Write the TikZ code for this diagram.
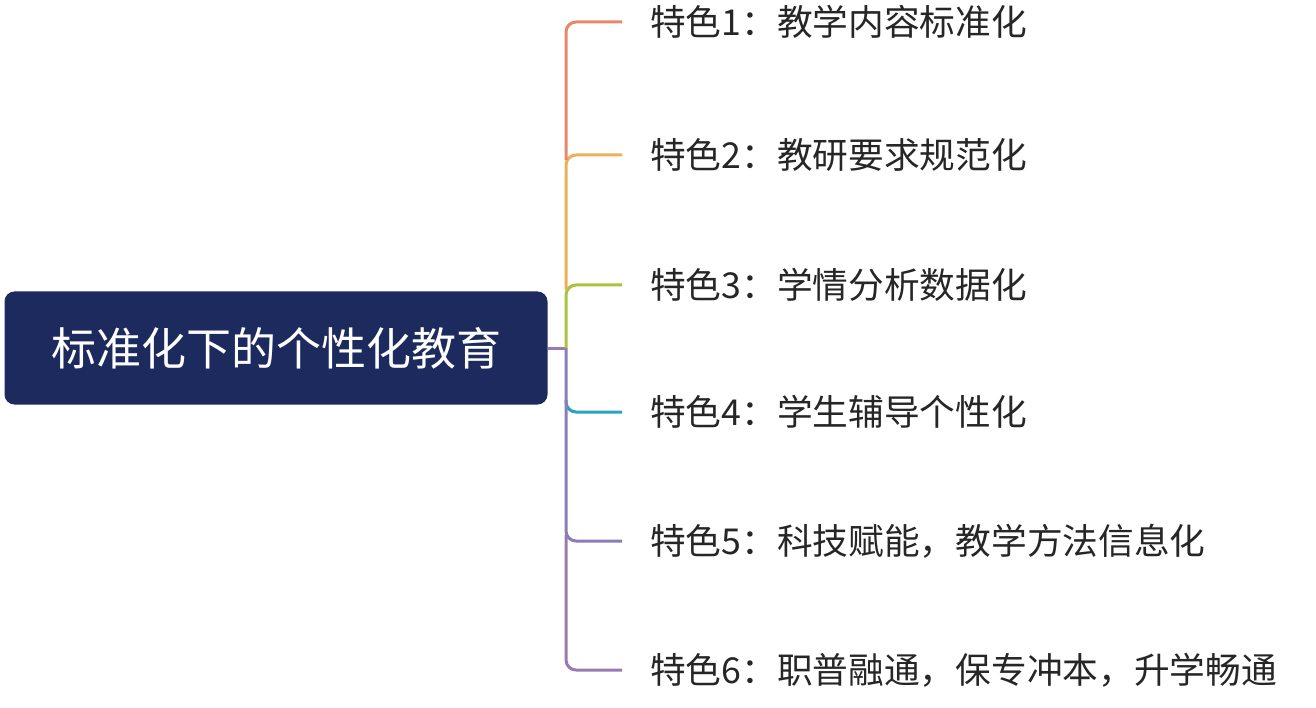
\documentclass[tikz,border=0pt]{standalone}
\usepackage{fontspec}
\newfontfamily\cjk{Noto Sans CJK SC}
\definecolor{navy}{HTML}{1D2A5E}
\definecolor{c1}{HTML}{E8876A}
\definecolor{c2}{HTML}{EBB155}
\definecolor{c3}{HTML}{A8C43C}
\definecolor{c4}{HTML}{2AA3BE}
\definecolor{c5}{HTML}{8A7DBA}
\definecolor{c6}{HTML}{9B7AB4}
\begin{document}
\begin{tikzpicture}[x=1pt,y=-1pt,
  lbl/.style={anchor=west,font=\cjk\fontsize{35.7}{40}\selectfont,text=black!85,inner sep=0},
  br/.style={line width=3pt,rounded corners=10pt}]
\useasboundingbox (0,0) rectangle (1316,708);
\node[fill=navy,rounded corners=10pt,minimum width=543,minimum height=113,text=white,font=\cjk\fontsize{45}{50}\selectfont] (root) at (276,348) {标准化下的个性化教育};
\coordinate (j) at (566,348);
\node[lbl] (t1) at (650,22) {特色1：教学内容标准化};
\node[lbl] (t2) at (650,155) {特色2：教研要求规范化};
\node[lbl] (t3) at (650,285) {特色3：学情分析数据化};
\node[lbl] (t4) at (650,412) {特色4：学生辅导个性化};
\node[lbl] (t5) at (650,541) {特色5：科技赋能，教学方法信息化};
\node[lbl] (t6) at (650,670) {特色6：职普融通，保专冲本，升学畅通};
\draw[line width=3pt,c6] (root.east) -- (j);
\draw[br,c3] (j) -- (566,285) -- (622,285);
\draw[br,c2] (566,290) -- (566,155) -- (622,155);
\draw[br,c1] (566,160) -- (566,22) -- (622,22);
\draw[br,c4] (566,400) -- (566,412) -- (622,412);
\draw[br,c5] (j) -- (566,541) -- (622,541);
\draw[br,c6] (566,535) -- (566,670) -- (622,670);
\end{tikzpicture}
\end{document}
